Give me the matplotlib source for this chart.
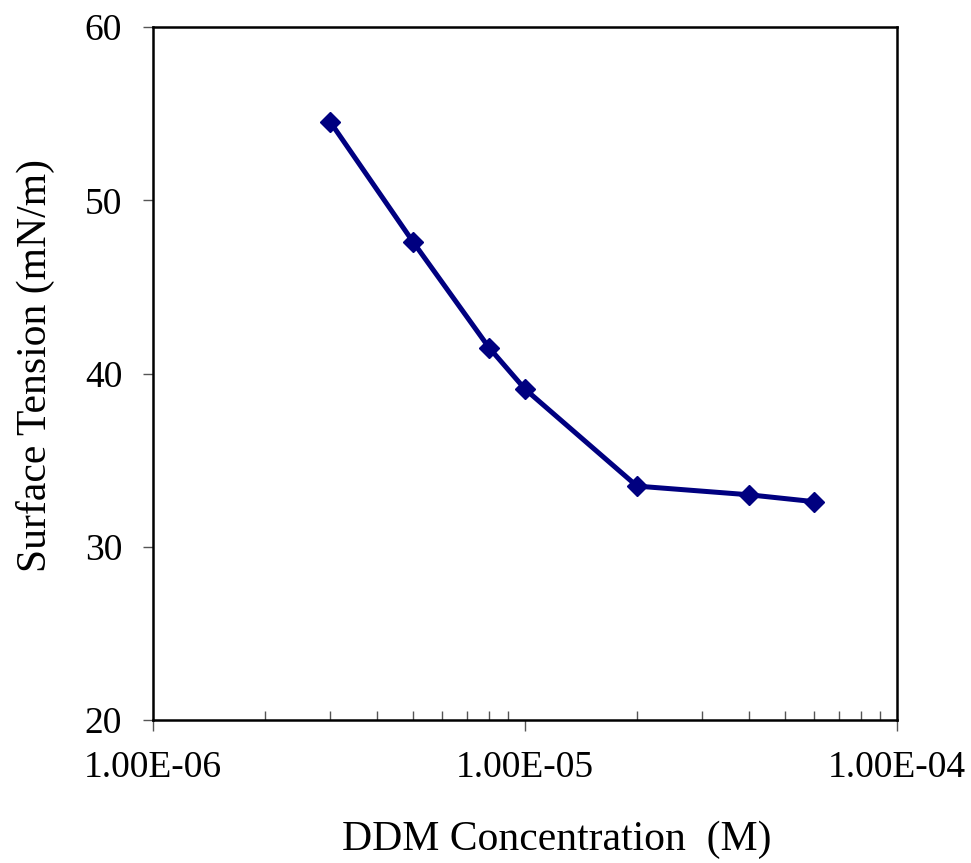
import matplotlib
matplotlib.use("Agg")
import matplotlib.pyplot as plt
from matplotlib.ticker import LogLocator, FixedLocator, NullFormatter

# DDM concentration (M) vs surface tension (mN/m)
concentration = [3e-6, 5e-6, 8e-6, 1e-5, 2e-5, 4e-5, 6e-5]
surface_tension = [54.5, 47.6, 41.5, 39.1, 33.5, 33.0, 32.6]

x_ticks = [1e-6, 1e-5, 1e-4]
x_tick_labels = ["1.00E-06", "1.00E-05", "1.00E-04"]
y_ticks = [20, 30, 40, 50, 60]

plt.rcParams["font.family"] = ["Liberation Serif", "DejaVu Serif"]

fig = plt.figure(figsize=(9.71, 8.63), dpi=100)
ax = fig.add_axes([153 / 971, 1 - 720 / 863, (897 - 153) / 971, (720 - 27) / 863])

ax.plot(concentration, surface_tension, color="#000080", lw=3.6,
        marker="D", ms=10, mfc="#000080", mec="#000080")

ax.set_xscale("log")
ax.set_xlim(1e-6, 1e-4)
ax.set_ylim(20, 60)

ax.xaxis.set_major_locator(FixedLocator(x_ticks))
ax.set_xticklabels(x_tick_labels)
ax.xaxis.set_minor_locator(LogLocator(base=10, subs=range(2, 10)))
ax.xaxis.set_minor_formatter(NullFormatter())
ax.set_yticks(y_ticks)

ax.tick_params(axis="x", which="major", direction="out", length=8, width=1,
               color="#555555", labelsize=27, pad=14)
ax.tick_params(axis="x", which="minor", direction="in", length=6.5, width=1,
               color="#555555")
ax.tick_params(axis="y", which="major", direction="out", length=7.2, width=1,
               color="#555555", labelsize=27, pad=15)

for side in ax.spines.values():
    side.set_linewidth(1.8)
    side.set_color("black")

ax.set_xlabel("DDM Concentration  (M)", fontsize=30)
ax.xaxis.set_label_coords(0.543, -0.145)
ax.set_ylabel("Surface Tension (mN/m)", fontsize=30)
ax.yaxis.set_label_coords(-0.132, 0.512)

fig.savefig("out.png", dpi=100, facecolor="white")
